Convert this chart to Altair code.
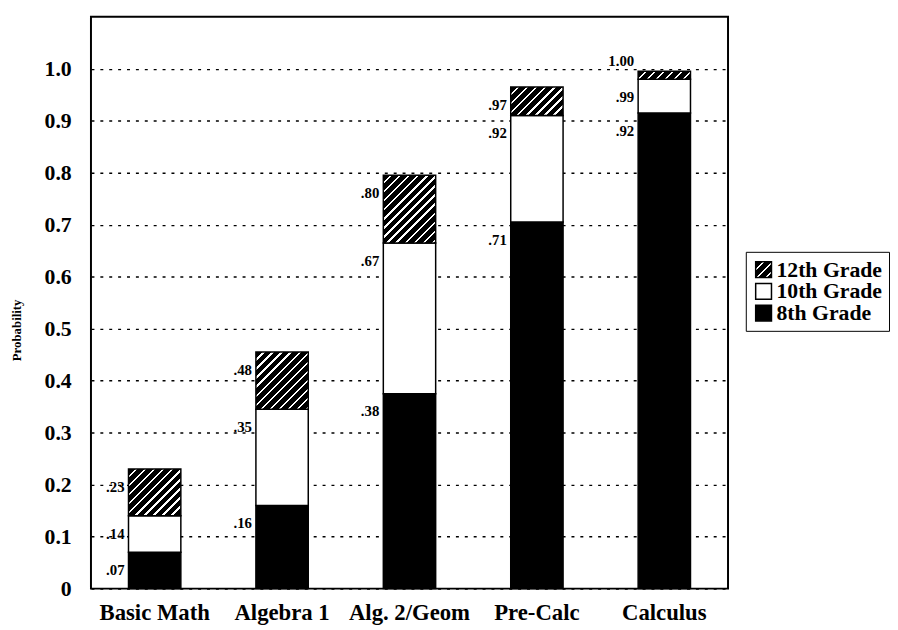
import json
import math
import altair as alt
import pandas as pd

# ---------------- data ----------------
courses = ["Basic Math", "Algebra 1", "Alg. 2/Geom", "Pre-Calc", "Calculus"]
grades = ["12th Grade", "10th Grade", "8th Grade"]
# cumulative probability (top of each stacked segment)
grade8 = [0.07, 0.16, 0.375, 0.705, 0.915]
grade10 = [0.14, 0.345, 0.665, 0.91, 0.98]
grade12 = [0.23, 0.455, 0.795, 0.965, 0.995]
# printed value labels
labels8 = [".07", ".16", ".38", ".71", ".92"]
labels10 = [".14", ".35", ".67", ".92", ".99"]
labels12 = [".23", ".48", ".80", ".97", "1.00"]
y_ticks = [0, 0.1, 0.2, 0.3, 0.4, 0.5, 0.6, 0.7, 0.8, 0.9, 1.0]

# ---------------- layout / style ----------------
PLOT_W, PLOT_H = 645, 579
Y_MAX = 1.1
BAR_W = 53
STEP = PLOT_W / len(courses)
PAD_INNER = 1 - BAR_W / STEP
SERIF = "'Liberation Serif', 'Times New Roman', Tinos, 'DejaVu Serif', serif"
PX_PER_UNIT = PLOT_H / Y_MAX


def hatch(w_px, h_px, period=6.5, line=1.7):
    """Linear gradient with hard stops that draws '/' hatching at 45 deg."""
    h_px = max(h_px, 1.0)
    s = (w_px + h_px) / (w_px ** 2 + h_px ** 2)
    n = (w_px + h_px) / (math.sqrt(2) * period)
    wf = line / period
    stops = []
    for k in range(int(math.ceil(n)) + 1):
        a = min(k / n, 1.0)
        b = min((k + 1 - wf) / n, 1.0)
        c = min((k + 1) / n, 1.0)
        stops += [
            {"offset": a, "color": "black"},
            {"offset": b, "color": "black"},
            {"offset": b, "color": "white"},
            {"offset": c, "color": "white"},
        ]
        if c >= 1.0:
            break
    return {"gradient": "linear", "x1": 0, "y1": 0,
            "x2": s * w_px, "y2": s * h_px, "stops": stops}


rows = []
for i, c in enumerate(courses):
    segs = [
        ("8th Grade", 0.0, grade8[i], labels8[i]),
        ("10th Grade", grade8[i], grade10[i], labels10[i]),
        ("12th Grade", grade10[i], grade12[i], labels12[i]),
    ]
    for g, lo, hi, lab in segs:
        rows.append({"course": c, "grade": g, "bottom": lo, "top": hi,
                     "label": lab, "thin": (hi - lo) < 0.03})
df = pd.DataFrame(rows)

x_enc = alt.X("course:N", sort=courses,
              scale=alt.Scale(domain=courses, paddingInner=PAD_INNER,
                              paddingOuter=PAD_INNER / 2),
              axis=alt.Axis(title=None, labelAngle=0, ticks=False, domain=False,
                            labelFont=SERIF, labelFontWeight="bold",
                            labelFontSize=23, labelColor="black",
                            labelPadding=13))
y_scale = alt.Scale(domain=[0, Y_MAX], nice=False, zero=True)
y_axis = alt.Axis(values=y_ticks, grid=True, gridColor="black", gridWidth=1.4,
                  gridDash=[3, 6], ticks=False, domain=False,
                  labelFont=SERIF, labelFontWeight="bold", labelFontSize=22,
                  labelColor="black", labelPadding=20,
                  labelExpr="datum.value == 0 ? '0' : format(datum.value, '.1f')",
                  title="Probability", titleFont=SERIF, titleFontWeight="bold",
                  titleFontSize=13, titleColor="black", titleAngle=270,
                  titleAlign="center", titleBaseline="middle",
                  titleX=-75, titleY=317)

legend_grad = hatch(16, 16)
fill_scale = alt.Scale(domain=grades,
                       range=[{"expr": json.dumps(legend_grad)}, "white", "black"])

base = alt.Chart(df)

solid = base.transform_filter(
    alt.FieldOneOfPredicate(field="grade", oneOf=["8th Grade", "10th Grade"])
).mark_bar(stroke="black", strokeWidth=1.5).encode(
    x=x_enc,
    y=alt.Y("top:Q", scale=y_scale, axis=y_axis),
    y2="bottom:Q",
    fill=alt.Fill("grade:N", scale=fill_scale,
                  legend=alt.Legend(title=None, orient="none",
                                    legendX=663, legendY=238,
                                    strokeColor="black",
                                    fillColor="white", padding=7,
                                    symbolType="square", symbolSize=256,
                                    symbolStrokeColor="black",
                                    symbolStrokeWidth=1.5,
                                    labelFont=SERIF, labelFontWeight="bold",
                                    labelFontSize=22, labelColor="black",
                                    labelOffset=2, rowPadding=0)),
)

layers = [solid]
for i, c in enumerate(courses):
    h_px = (grade12[i] - grade10[i]) * PX_PER_UNIT
    layers.append(
        base.transform_filter(
            (alt.datum.course == c) & (alt.datum.grade == "12th Grade")
        ).mark_bar(stroke="black", strokeWidth=1.5, fill=hatch(BAR_W, h_px)).encode(
            x=alt.X("course:N", sort=courses),
            y=alt.Y("top:Q", scale=y_scale),
            y2="bottom:Q",
        )
    )

text_common = dict(align="right", baseline="middle", font=SERIF,
                   fontWeight="bold", fontSize=15, color="black",
                   dx=-(BAR_W / 2 + 4))
labels_below = base.transform_filter("!datum.thin").mark_text(
    dy=18, **text_common).encode(
    x=alt.X("course:N", sort=courses),
    y=alt.Y("top:Q", scale=y_scale),
    text="label:N",
)
labels_above = base.transform_filter("datum.thin").mark_text(
    dy=-10, **text_common).encode(
    x=alt.X("course:N", sort=courses),
    y=alt.Y("top:Q", scale=y_scale),
    text="label:N",
)
layers += [labels_below, labels_above]

chart = alt.layer(*layers).properties(
    width=PLOT_W, height=PLOT_H,
    padding={"left": 3, "top": 5, "right": 0, "bottom": 0},
    background="white",
).configure_view(stroke="black", strokeWidth=2)

chart.save("out.html", embed_options={"renderer": "svg", "actions": False})
